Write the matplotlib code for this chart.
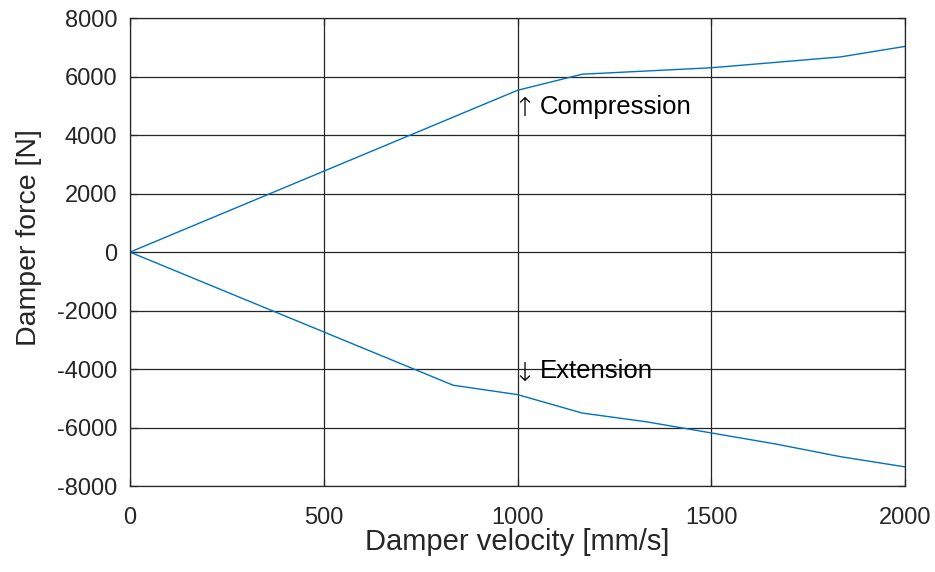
import matplotlib.pyplot as plt

plt.rcParams['font.family'] = ['Liberation Sans', 'DejaVu Sans']
plt.rcParams['axes.unicode_minus'] = False

# Damper characteristic, velocity in mm/s, force in N
comp_velocity = [0, 1000, 1167, 1500, 1833, 2000]
comp_force = [0, 5530, 6080, 6300, 6670, 7030]

ext_velocity = [0, 834, 1000, 1167, 1333, 1500, 1667, 1833, 2000]
ext_force = [0, -4550, -4870, -5500, -5800, -6180, -6560, -6990, -7340]

x_ticks = [0, 500, 1000, 1500, 2000]
y_ticks = [-8000, -6000, -4000, -2000, 0, 2000, 4000, 6000, 8000]

fig = plt.figure(figsize=(9.35, 5.72), dpi=100)
ax = fig.add_axes([0.139, 0.150, 0.829, 0.8185])

line_color = '#0072BD'
ax.plot(comp_velocity, comp_force, color=line_color, linewidth=1.0)
ax.plot(ext_velocity, ext_force, color=line_color, linewidth=1.0)

# direction labels: thin arrow glyph followed by the word
ax.text(988, 4900, '\u2191', fontsize=19, family='DejaVu Sans', fontweight='light',
        va='center', ha='left', color='black')
ax.text(1058, 4960, 'Compression', fontsize=18.5, va='center', ha='left', color='black')
ax.text(988, -4150, '\u2193', fontsize=19, family='DejaVu Sans', fontweight='light',
        va='center', ha='left', color='black')
ax.text(1058, -4070, 'Extension', fontsize=18.5, va='center', ha='left', color='black')

ax.set_xlim(0, 2000)
ax.set_ylim(-8000, 8000)
ax.set_xticks(x_ticks)
ax.set_yticks(y_ticks)
ax.grid(True, color='#262626', linewidth=0.9)
ax.set_axisbelow(True)

ax.tick_params(direction='in', length=5, width=0.9, colors='#262626',
               labelsize=17, top=True, right=True)
ax.tick_params(axis='y', pad=9)
ax.tick_params(axis='x', pad=15)
for s in ax.spines.values():
    s.set_color('#262626')
    s.set_linewidth(0.9)

ax.set_xlabel('Damper velocity [mm/s]', fontsize=21, color='#262626', labelpad=-1)
ax.set_ylabel('Damper force [N]', fontsize=20.5, color='#262626')
ax.yaxis.set_label_coords(-0.114, 0.532)

fig.savefig('out.png', dpi=100)
